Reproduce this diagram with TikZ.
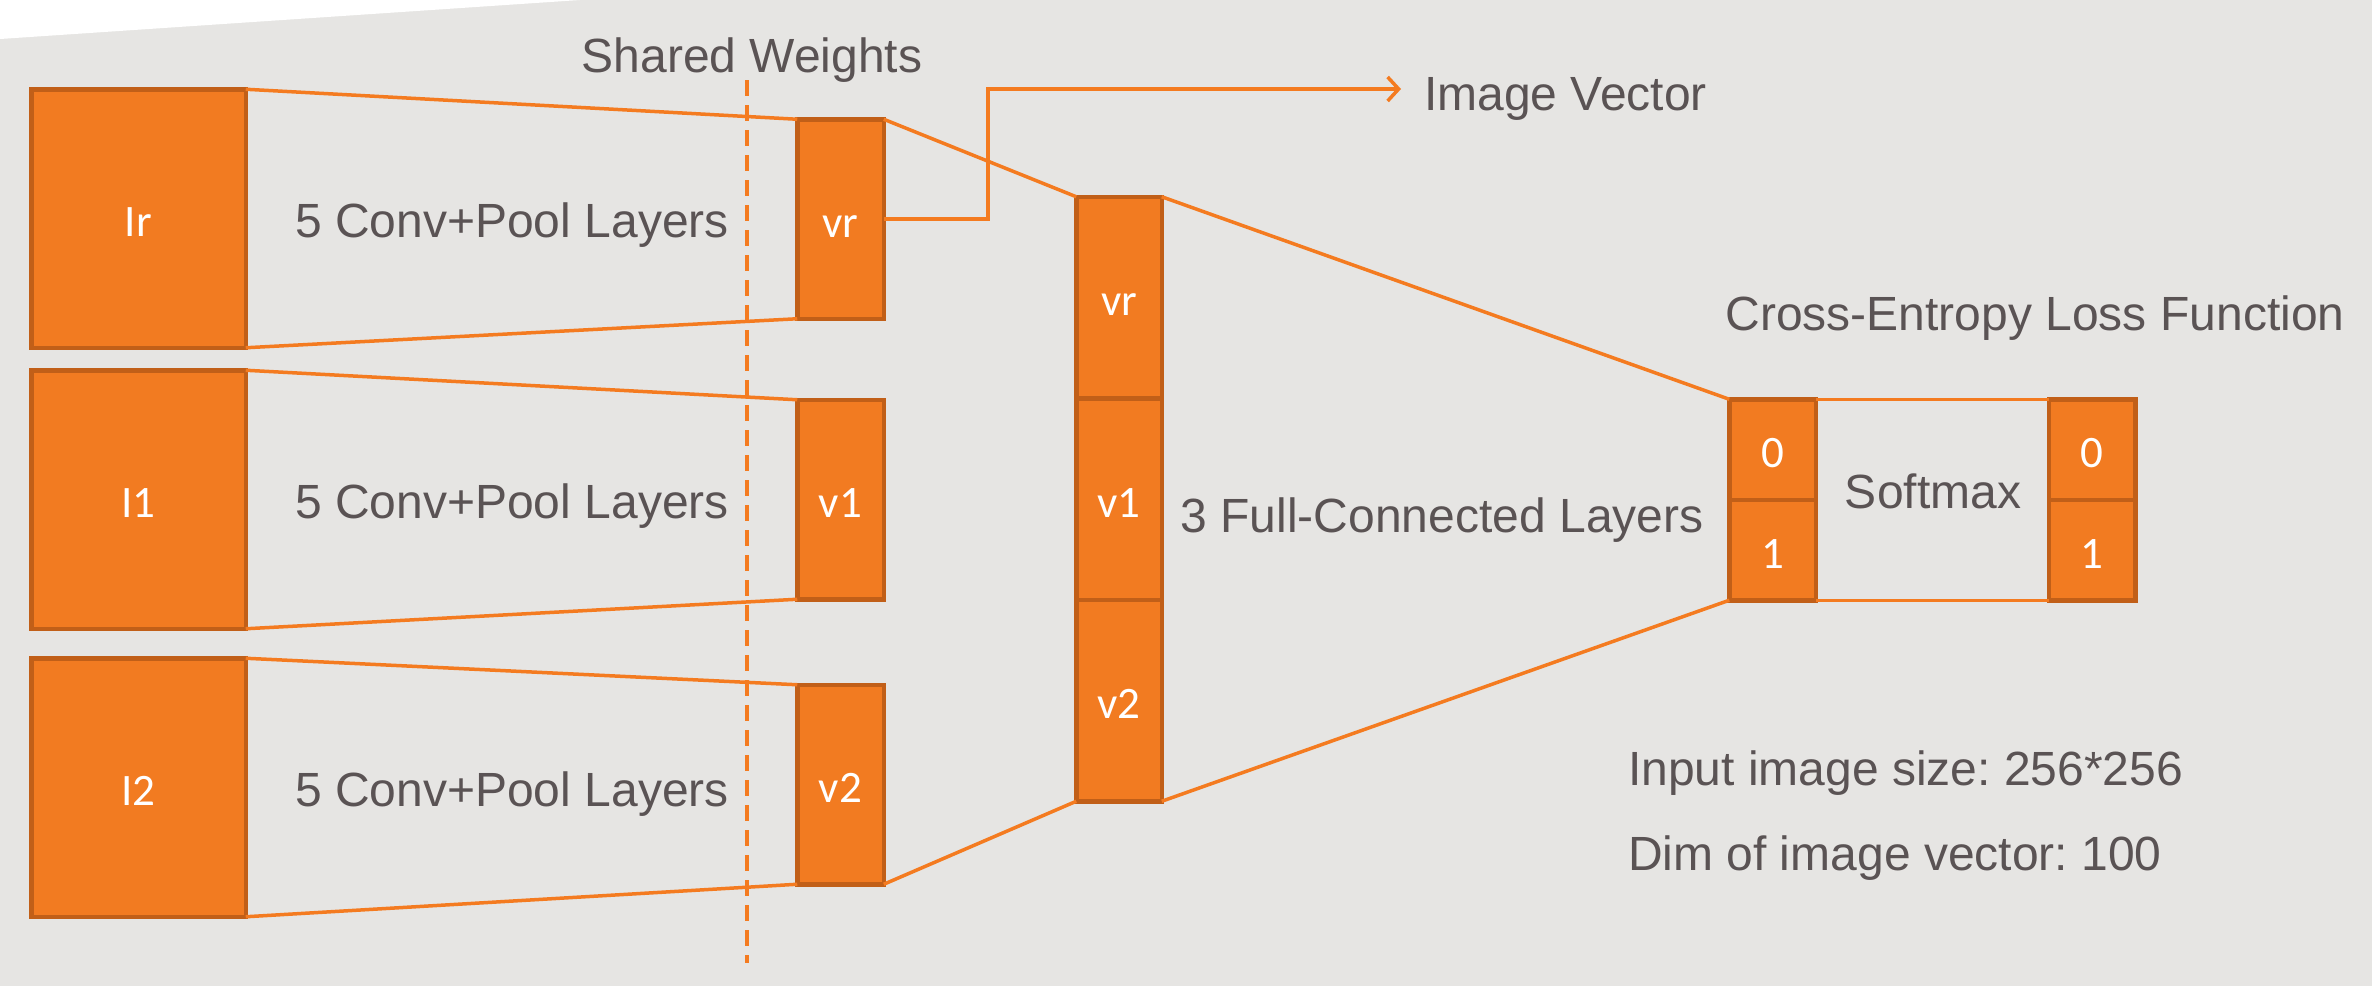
\documentclass[tikz,border=0pt]{standalone}
\usepackage{fontspec}
\setmainfont{Liberation Sans}
\newfontfamily\cellfont{Carlito}
\usetikzlibrary{arrows.meta,positioning}
\definecolor{canvasgray}{HTML}{E6E5E3}
\definecolor{boxorange}{HTML}{F27B21}
\definecolor{rimorange}{HTML}{C15F18}
\definecolor{lineorange}{HTML}{F47B20}
\definecolor{inkgray}{HTML}{5A5354}
\frenchspacing

\begin{document}
\begin{tikzpicture}[
  x=1pt, y=-1pt,
  every node/.style={inner sep=0pt, outer sep=0pt},
  txt/.style={text=inkgray, font=\fontsize{48}{56}\selectfont},
  cell/.style={draw=rimorange, fill=boxorange, line width=4.5pt, text=white,
    font=\cellfont\fontsize{45}{54}\selectfont, text height=36pt, text depth=0pt},
  imgbox/.style={cell, minimum width=214.5pt, minimum height=258.5pt},
  vecbox/.style={cell, minimum width=86.5pt, minimum height=199.5pt},
  fcbox/.style={cell, minimum width=85.5pt, minimum height=201.5pt},
  outbox/.style={cell, minimum width=86.5pt, minimum height=100.5pt},
  link/.style={draw=lineorange, line width=3.5pt},
  arr/.style={link, -{Straight Barb[length=11pt, width=24pt]}}
]
\fill[canvasgray] (0,0) rectangle (2372,986);
\fill[white] (0,0) -- (580,0) -- (0,39) -- cycle;
\useasboundingbox (0,0) rectangle (2372,986);

% input images and their vectors
\node[imgbox] (Ir) at (138.5,218.5) {Ir};
\node[imgbox] (I1) at (138.5,499.5) {I1};
\node[imgbox] (I2) at (138.5,787.5) {I2};
\node[vecbox] (vr) at (840.5,219) {vr};
\node[vecbox] (v1) at (840.5,499.5) {v1};
\node[vecbox] (v2) at (840.5,784.5) {v2};

% concatenated vector
\node[fcbox] (fr) at (1119,297.5) {vr};
\node[fcbox, below=0pt of fr] (f1) {v1};
\node[fcbox, below=0pt of f1] (f2) {v2};

% outputs before and after softmax
\node[outbox] (c0) at (1772.5,449.5) {0};
\node[outbox, below=0pt of c0] (c1) {1};
\node[outbox] (p0) at (2092,449.5) {0};
\node[outbox, below=0pt of p0] (p1) {1};

\node[txt, anchor=base] (shared) at (752,72) {Shared Weights};
\node[txt, anchor=base] (convr) at (512,237) {5 Conv+Pool Layers};
\node[txt, anchor=base] (conv1) at (512,518) {5 Conv+Pool Layers};
\node[txt, anchor=base] (conv2) at (512,806) {5 Conv+Pool Layers};
\node[txt, anchor=base] (fc) at (1442,532) {3 Full-Connected Layers};
\node[txt, anchor=base] (softmax) at (1933,508) {Softmax};
\node[txt, anchor=base] (loss) at (2035,330) {Cross-Entropy Loss Function};
\node[txt, anchor=base west] (imgvec) at (1424,110) {Image Vector};
\node[txt, anchor=base west] (insize) at (1628,785) {Input image size: 256*256};
\node[txt, anchor=base west] (dim) at (1628,870) {Dim of image vector: 100};

\coordinate (dashtop) at (747,80);
\coordinate (dashbot) at (747,963);
\coordinate (ivbend) at (988,89);
\coordinate (ivtip) at (1401,89);

\draw[link, dash pattern=on 16pt off 9pt] (dashtop) -- (dashbot);

\draw[link] (Ir.north east) -- (vr.north west);
\draw[link] (Ir.south east) -- (vr.south west);
\draw[link] (I1.north east) -- (v1.north west);
\draw[link] (I1.south east) -- (v1.south west);
\draw[link] (I2.north east) -- (v2.north west);
\draw[link] (I2.south east) -- (v2.south west);
\draw[link] (vr.north east) -- (fr.north west);
\draw[link] (v2.south east) -- (f2.south west);
\draw[link] (fr.north east) -- (c0.north west);
\draw[link] (f2.south east) -- (c1.south west);
\draw[link] (c0.north east) -- (p0.north west);
\draw[link] (c1.south east) -- (p1.south west);
\draw[arr] (vr.east) -| (ivbend) -- (ivtip);
\end{tikzpicture}
\end{document}
